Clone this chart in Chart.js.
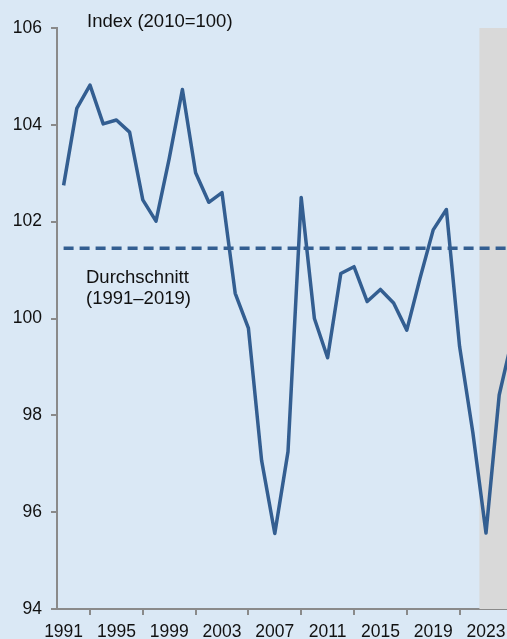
<!DOCTYPE html>
<html>
<head>
<meta charset="utf-8">
<script src="https://cdn.jsdelivr.net/npm/chart.js@4"></script>
<style>
  html, body { margin: 0; padding: 0; overflow: hidden; background: #dae8f5; }
  #wrap { position: absolute; left: 0; top: 0; width: 530px; height: 639px; }
</style>
</head>
<body>
<div id="wrap"><canvas id="myChart"></canvas></div>
<script>
const years = ['1991', '1992', '1993', '1994', '1995', '1996', '1997', '1998', '1999', '2000',
  '2001', '2002', '2003', '2004', '2005', '2006', '2007', '2008', '2009', '2010',
  '2011', '2012', '2013', '2014', '2015', '2016', '2017', '2018', '2019', '2020',
  '2021', '2022', '2023', '2024', '2025'];
const indexValues = [102.75, 104.34, 104.82, 104.02, 104.10, 103.85, 102.45, 102.01, 103.30, 104.73,
  103.01, 102.40, 102.60, 100.52, 99.80, 97.07, 95.56, 97.25, 102.50, 100.00,
  99.19, 100.93, 101.07, 100.35, 100.60, 100.32, 99.76, 100.83, 101.83, 102.25,
  99.42, 97.65, 95.57, 98.42, 99.60];
const average = 101.45;
const forecastStart = '2023';
const yTicks = [94, 96, 98, 100, 102, 104, 106];

const lineColor = '#335e91';
const axisColor = '#8a8a8a';
const font = 'Arial, "Liberation Sans", sans-serif';

// background and shaded forecast area
const backdrop = {
  id: 'backdrop',
  beforeDraw(chart) {
    const { ctx } = chart;
    ctx.save();
    ctx.fillStyle = '#dae8f5';
    ctx.fillRect(0, 0, chart.width, chart.height);
    ctx.restore();
  },
  beforeDatasetsDraw(chart) {
    const { ctx, chartArea, scales } = chart;
    const i = years.indexOf(forecastStart);
    const left = (scales.x.getPixelForValue(i) + scales.x.getPixelForValue(i - 1)) / 2;
    ctx.save();
    ctx.fillStyle = '#d9d9d9';
    ctx.fillRect(left, chartArea.top, chart.width - left, chartArea.bottom - chartArea.top);
    ctx.restore();
  },
  afterDraw(chart) {
    const { ctx } = chart;
    ctx.save();
    ctx.fillStyle = '#111';
    ctx.font = '18.5px ' + font;
    ctx.textBaseline = 'alphabetic';
    ctx.fillText('Index (2010=100)', 87, 27);
    ctx.fillText('Durchschnitt', 86, 283);
    ctx.fillText('(1991\u20132019)', 86, 304);
    ctx.restore();
  },
};

const ctx = document.getElementById('myChart').getContext('2d');
new Chart(ctx, {
  type: 'line',
  data: {
    labels: years,
    datasets: [
      {
        data: indexValues,
        borderColor: lineColor,
        borderWidth: 3.5,
        borderJoinStyle: 'round',
        pointRadius: 0,
        tension: 0,
      },
      {
        data: years.map(() => average),
        borderColor: lineColor,
        borderWidth: 3.5,
        borderDash: [10, 6],
        pointRadius: 0,
      },
    ],
  },
  options: {
    responsive: true,
    maintainAspectRatio: false,
    animation: false,
    layout: { padding: { left: 0, top: 28, right: 11, bottom: 0 } },
    plugins: { legend: { display: false }, tooltip: { enabled: false } },
    scales: {
      x: {
        offset: true,
        grid: {
          offset: true,
          drawOnChartArea: false,
          drawTicks: true,
          tickLength: 6,
          color: axisColor,
          lineWidth: 2,
        },
        border: { color: axisColor, width: 2 },
        ticks: {
          autoSkip: false,
          maxRotation: 0,
          color: '#111',
          font: { family: font, size: 17.5 },
          padding: 7,
          callback: (v, i) => (i % 4 === 0 ? years[i] : null),
        },
        afterFit: (s) => { s.height = 30; },
      },
      y: {
        min: 94,
        max: 106,
        afterBuildTicks: (s) => { s.ticks = yTicks.map((v) => ({ value: v })); },
        grid: {
          drawOnChartArea: false,
          drawTicks: true,
          tickLength: 6,
          color: axisColor,
          lineWidth: 2,
        },
        border: { color: axisColor, width: 2 },
        ticks: {
          color: '#111',
          font: { family: font, size: 17.5 },
          padding: 9,
        },
        afterFit: (s) => { s.width = 57; },
      },
    },
  },
  plugins: [backdrop],
});
</script>
</body>
</html>
